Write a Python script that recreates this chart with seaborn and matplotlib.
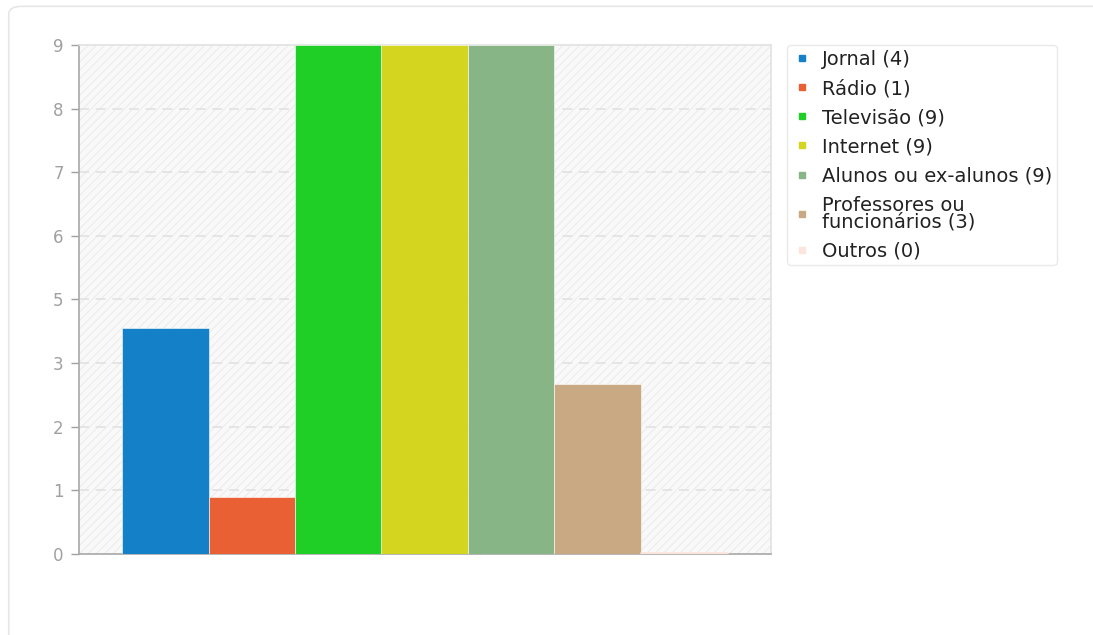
import numpy as np
import pandas as pd
import seaborn as sns
import matplotlib.pyplot as plt
from matplotlib.lines import Line2D
from matplotlib.patches import Rectangle, FancyBboxPatch

categories = ["Jornal", "Rádio", "Televisão", "Internet", "Alunos ou ex-alunos",
              "Professores ou funcionários", "Outros"]
legend_labels = ["Jornal (4)", "Rádio (1)", "Televisão (9)", "Internet (9)",
                 "Alunos ou ex-alunos (9)", "Professores ou\nfuncionários (3)", "Outros (0)"]
values = [4, 1, 9, 9, 9, 3, 0]
colors = ["#1380c8", "#e86033", "#20cf25", "#d4d51f", "#88b585", "#c8a983", "#fbe5dc"]
ytick_labels = ["0", "1", "2", "3", "5", "6", "7", "8", "9"]

df = pd.DataFrame({"cat": categories, "val": values})

sns.set_style("white")
plt.rcParams['font.family'] = ['DejaVu Sans']
plt.rcParams['hatch.linewidth'] = 0.7

fig = plt.figure(figsize=(10.93, 6.35), dpi=100)

# card behind everything
card = FancyBboxPatch((0.008, -0.05), 1.05, 1.04, boxstyle="round,pad=0,rounding_size=0.012",
                      transform=fig.transFigure, facecolor="white", edgecolor="#e6e6e6",
                      linewidth=1.2, zorder=-10)
fig.patches.append(card)

ax = fig.add_axes([0.0723, 0.1276, 0.6331, 0.8016])
ax.set_facecolor("#f9f9f9")
ax.add_patch(Rectangle((0, 0), 1, 1, transform=ax.transAxes, facecolor="none",
                       edgecolor="#ebebeb", hatch="////", linewidth=0, zorder=0))

sns.barplot(data=df, x="cat", y="val", hue="cat", palette=colors, legend=False,
            width=1.0, ax=ax, saturation=1, edgecolor="white", linewidth=0.4, zorder=3)

# empty category still gets a thin line at zero
ax.plot([5.5, 6.5], [0.02, 0.02], color=colors[6], lw=2, zorder=4)

ax.set_xlim(-1.0, 7.01)
ax.set_ylim(0, 9)
ax.set_yticks(np.linspace(0, 9, 9))
ax.set_yticklabels(ytick_labels)
ax.set_xticks([])
ax.set_xlabel("")
ax.set_ylabel("")
ax.tick_params(axis="y", colors="#a0a0a0", labelsize=12, length=6, width=1, pad=5, left=True)
for y in np.linspace(0, 9, 9)[1:-1]:
    ax.axhline(y, color="#e2e2e2", lw=1.2, ls=(0, (6, 4)), zorder=1)

for side in ["left", "bottom"]:
    ax.spines[side].set_color("#a8a8a8")
    ax.spines[side].set_linewidth(1.2)
for side in ["top", "right"]:
    ax.spines[side].set_color("#e2e2e2")
    ax.spines[side].set_linewidth(1.2)

handles = [Line2D([0], [0], marker="s", color="none", markerfacecolor=c, markeredgecolor=c,
                  markersize=5) for c in colors]
leg = fig.legend(handles, legend_labels, loc="upper left", bbox_to_anchor=(0.72, 0.929),
                 borderaxespad=0, frameon=True, fontsize=14, handlelength=1.0,
                 handletextpad=0.55, labelspacing=0.52, borderpad=0.25, fancybox=True,
                 shadow=False)
leg.get_frame().set_edgecolor("#e4e4e4")
leg.get_frame().set_linewidth(1)
for t in leg.get_texts():
    t.set_color("#222222")
    t.set_linespacing(0.85)

fig.savefig("out.png", dpi=100)
